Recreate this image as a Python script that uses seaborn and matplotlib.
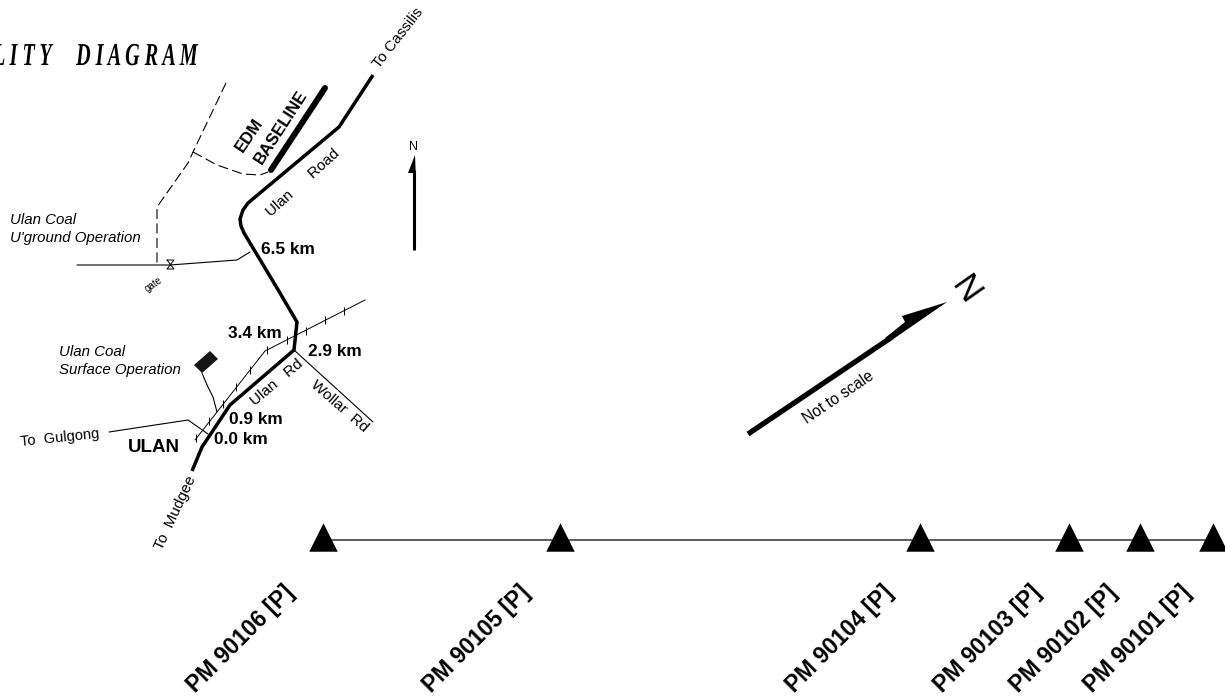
# plot.py - locality diagram, pixel coordinates of the reference
import matplotlib
matplotlib.use('Agg')
import matplotlib.pyplot as plt
import matplotlib.patheffects as pe
from matplotlib.transforms import Affine2D
import seaborn as sns

# Stations along the baseline
station_x = [323, 560, 920, 1069, 1140, 1213]
station_y = [537, 537, 537, 537, 537, 537]
station_names = ['PM 90106 [P]', 'PM 90105 [P]', 'PM 90104 [P]',
                 'PM 90103 [P]', 'PM 90102 [P]', 'PM 90101 [P]']
station_label_x = [241, 477, 840, 988, 1064, 1138]
baseline_x = [323, 1213]
baseline_y = [540, 540]

# Roads
ulan_road_x = [373, 339, 248, 243, 240, 241, 244, 277, 297, 294, 230, 202, 192]
ulan_road_y = [75, 127, 203, 210, 219, 226, 233, 288, 322, 350, 405, 447, 471]
edm_x = [325, 271]
edm_y = [88, 170]
track_x = [226, 193, 188, 157, 157]
track_y = [83, 152, 163, 207, 265]
track_branch_x = [193, 217, 243, 260, 268]
track_branch_y = [152, 165, 174, 175, 172]
gate_road_x = [77, 170, 237, 250]
gate_road_y = [265, 265, 260, 252]
gate_x = [167, 174, 167, 174, 167]
gate_y = [260, 260, 269, 269, 260]
rail_x = [365, 265, 195]
rail_y = [300, 351, 440]
rail_tick_x = [344, 325, 306, 287, 267, 250, 236, 223, 209, 196]
rail_tick_y = [311, 320, 331, 340, 350, 370, 387, 404, 421, 438]
gulgong_x = [109, 188, 208]
gulgong_y = [432, 420, 434]
wollar_x = [294, 373]
wollar_y = [350, 422]
pit_x = [194, 210, 218, 202]
pit_y = [365, 351, 359, 373]
pit_road_x = [202, 207, 213, 217]
pit_road_y = [373, 385, 397, 412]

# North arrows
north_shaft_x = [414, 414]
north_shaft_y = [170, 250]
north_head_x = [415, 408, 413, 416]
north_head_y = [155, 173, 173, 180]
big_shaft_x = [748, 892]
big_shaft_y = [434, 337]
big_head_x = [947, 902, 905, 885, 889]
big_head_y = [302, 316, 322, 338, 342]

# x, y, text, size, rotation
plain_labels = [
    (398, 38, 'To Cassilis', 11, 52),
    (303, 183, 'Ulan      Road', 11, 42),
    (277, 382, 'Ulan   Rd', 11, 40),
    (339, 406, 'Wollar  Rd', 11, -41),
    (60, 438, 'To  Gulgong', 10.5, 6),
    (176, 513, 'To  Mudgee', 11, 65),
    (838, 397, 'Not to scale', 11.2, 34),
    (153, 284, 'gate', 7, 35),
    (414, 147, 'N', 9, 0),
    (965, 290, 'N', 25, -55),
]
bold_labels = [
    (249, 135, 'EDM', 12, 56),
    (281, 127, 'BASELINE', 12, 57),
]
km_labels = [
    (261, 250, '6.5 km'),
    (228, 333, '3.4 km'),
    (308, 351, '2.9 km'),
    (229, 419, '0.9 km'),
    (214, 440, '0.0 km'),
]
italic_labels = [
    (10, 220, 'Ulan Coal'),
    (10, 238, "U'ground Operation"),
    (59, 352, 'Ulan Coal'),
    (59, 370, 'Surface Operation'),
]
title_text = 'L I T Y     D I A G R A M'


# The title font in the reference is very narrow, squeeze the glyphs sideways
class Condense(pe.AbstractPathEffect):
    def draw_path(self, renderer, gc, tpath, affine, rgbFace=None):
        renderer.draw_path(gc, tpath, Affine2D().scale(0.63, 1) + affine, rgbFace)


def draw_line(ax, x, y, lw, **kws):
    sns.lineplot(x=x, y=y, sort=False, estimator=None, color='black',
                 linewidth=lw, legend=False, ax=ax, **kws)


def main():
    sns.set_theme(style='white')
    plt.rcParams['font.family'] = ['Liberation Sans', 'DejaVu Sans']
    plt.rcParams['text.color'] = 'black'

    fig = plt.figure(figsize=(12.25, 6.98), dpi=100)
    ax = fig.add_axes([0, 0, 1, 1])

    # Roads and tracks
    draw_line(ax, ulan_road_x, ulan_road_y, 2.5, solid_capstyle='butt')
    draw_line(ax, edm_x, edm_y, 4.3)
    draw_line(ax, track_x, track_y, 0.8, linestyle=(0, (9, 4)))
    draw_line(ax, track_branch_x, track_branch_y, 0.8, linestyle=(0, (9, 4)))
    draw_line(ax, gate_road_x, gate_road_y, 0.8)
    draw_line(ax, gate_x, gate_y, 0.7)
    draw_line(ax, rail_x, rail_y, 0.7)
    draw_line(ax, gulgong_x, gulgong_y, 0.8)
    draw_line(ax, wollar_x, wollar_y, 0.8)
    draw_line(ax, pit_road_x, pit_road_y, 0.8)
    sns.scatterplot(x=rail_tick_x, y=rail_tick_y, marker='|', s=35, color='black',
                    linewidth=0.7, legend=False, ax=ax)
    ax.fill(pit_x, pit_y, color='#151515', linewidth=0)

    # North arrows
    draw_line(ax, north_shaft_x, north_shaft_y, 2.2, solid_capstyle='butt')
    ax.fill(north_head_x, north_head_y, color='black', linewidth=0)
    draw_line(ax, big_shaft_x, big_shaft_y, 3.8, solid_capstyle='butt')
    ax.fill(big_head_x, big_head_y, color='black', linewidth=0)

    # Station line and triangles
    draw_line(ax, baseline_x, baseline_y, 1.2, alpha=0.75)
    sns.scatterplot(x=station_x, y=station_y, marker='^', s=420, color='black',
                    linewidth=0, legend=False, ax=ax, zorder=3)

    for x, y, text, size, rot in plain_labels:
        ax.text(x, y, text, fontsize=size, rotation=rot, ha='center', va='center',
                rotation_mode='anchor')
    for x, y, text, size, rot in bold_labels:
        ax.text(x, y, text, fontsize=size, rotation=rot, ha='center', va='center',
                rotation_mode='anchor', fontweight='bold')
    for x, y, text in km_labels:
        ax.text(x, y, text, fontsize=12.4, ha='left', va='center', fontweight='bold')
    for x, y, text in italic_labels:
        ax.text(x, y, text, fontsize=10.8, ha='left', va='center', style='italic')
    ax.text(128, 447, 'ULAN', fontsize=13.5, ha='left', va='center', fontweight='bold')

    for x, name in zip(station_label_x, station_names):
        ax.text(x, 639, name, fontsize=16.5, rotation=45, ha='center', va='center',
                rotation_mode='anchor', fontweight='bold')

    ax.text(-7, 65, title_text, fontsize=23, ha='left', va='baseline',
            family=['Liberation Serif'], style='italic', fontweight='bold',
            path_effects=[Condense()])

    ax.set_xlim(0, 1225)
    ax.set_ylim(698, 0)
    ax.axis('off')

    plt.savefig('out.png', dpi=100)


if __name__ == "__main__":
    main()
